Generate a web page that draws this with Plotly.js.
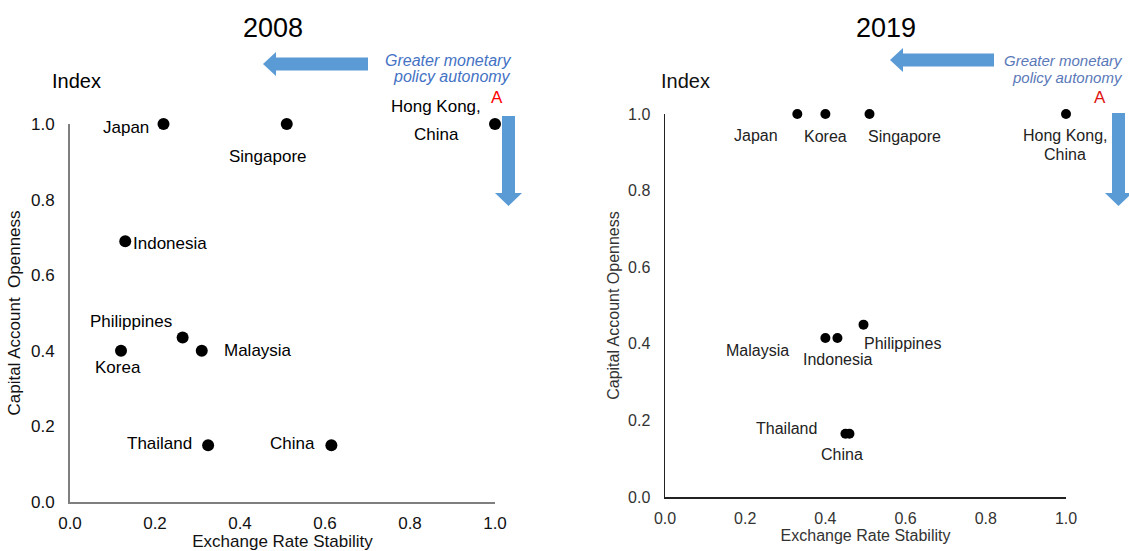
<!DOCTYPE html>
<html>
<head>
<meta charset="utf-8">
<script src="https://cdn.plot.ly/plotly-3.0.1.min.js"></script>
<style>html,body{margin:0;padding:0;background:#fff;}#chart{width:1129px;height:551px;}</style>
</head>
<body>
<div id="chart"></div>
<script>
// ---- data ----
const names2008 = ['Japan', 'Singapore', 'Hong Kong, China', 'Indonesia', 'Philippines', 'Korea', 'Malaysia', 'Thailand', 'China'];
const ers2008   = [0.22, 0.51, 1.0, 0.13, 0.265, 0.12, 0.31, 0.325, 0.615];
const kao2008   = [1.0, 1.0, 1.0, 0.69, 0.435, 0.40, 0.40, 0.15, 0.15];

const names2019 = ['Japan', 'Korea', 'Singapore', 'Hong Kong, China', 'Malaysia', 'Indonesia', 'Philippines', 'Thailand', 'China'];
const ers2019   = [0.33, 0.40, 0.51, 1.0, 0.40, 0.43, 0.495, 0.45, 0.46];
const kao2019   = [1.0, 1.0, 1.0, 1.0, 0.415, 0.415, 0.45, 0.165, 0.165];

const tickVals  = [0, 0.2, 0.4, 0.6, 0.8, 1.0];
const tickText  = ['0.0', '0.2', '0.4', '0.6', '0.8', '1.0'];

const panelTitles = ['2008', '2019'];
const unitLabel = 'Index';
const xTitle = 'Exchange Rate Stability';
const yTitleLeft = 'Capital Account  Openness';
const yTitleRight = 'Capital Account Openness';
const noteLines = ['Greater monetary', 'policy autonomy'];
const cornerMark = 'A';

// ---- styling / layout helpers ----
const W = 1129, H = 551;
const FONT = 'Liberation Sans, Arial, sans-serif';
const BLUE = '#5b9bd5';
const px = x => x / W;
const py = y => 1 - y / H;

// label placement offsets (pixels from the point): dx right, dy down
const labelPos2008 = {
  'Japan': {dx: -38, dy: 3, xa: 'center'},
  'Singapore': {dx: -19, dy: 32, xa: 'center'},
  'Hong Kong, China': {dx: -59, dy: -4, xa: 'center', gap: 28},
  'Indonesia': {dx: 6, dy: 2, xa: 'left'},
  'Philippines': {dx: -52, dy: -16, xa: 'center'},
  'Korea': {dx: -3, dy: 17, xa: 'center'},
  'Malaysia': {dx: 20, dy: 0, xa: 'left'},
  'Thailand': {dx: -14, dy: -2, xa: 'right'},
  'China': {dx: -14, dy: -2, xa: 'right'}
};
const labelPos2019 = {
  'Japan': {dx: -41, dy: 21, xa: 'center'},
  'Korea': {dx: 0, dy: 22, xa: 'center'},
  'Singapore': {dx: 35, dy: 22, xa: 'center'},
  'Hong Kong, China': {dx: -1, dy: 31, xa: 'center', gap: 19},
  'Malaysia': {dx: -68, dy: 12, xa: 'center'},
  'Indonesia': {dx: 0, dy: 21, xa: 'center'},
  'Philippines': {dx: 39, dy: 19, xa: 'center'},
  'Thailand': {dx: -59, dy: -5, xa: 'center'},
  'China': {dx: -7, dy: 21, xa: 'center'}
};

function labelAnnotations(names, xs, ys, pos, xref, yref, size, color) {
  const out = [];
  names.forEach((n, i) => {
    const p = pos[n];
    let lines = [n];
    if (p.gap) { const k = n.indexOf(', '); lines = [n.slice(0, k + 1), n.slice(k + 2)]; }
    lines.forEach((t, j) => {
      const off = lines.length > 1 ? (j === 0 ? -p.gap / 2 : p.gap / 2) : 0;
      out.push({
        x: xs[i], y: ys[i], xref: xref, yref: yref, text: t, showarrow: false,
        xanchor: p.xa, yanchor: 'middle', xshift: p.dx, yshift: -(p.dy + off),
        font: {family: FONT, size: size, color: color}
      });
    });
  });
  return out;
}

function textAnn(x, y, text, size, color, xanchor, extra) {
  return Object.assign({
    xref: 'paper', yref: 'paper', x: px(x), y: py(y), text: text, showarrow: false,
    xanchor: xanchor || 'center', yanchor: 'middle',
    font: {family: FONT, size: size, color: color}
  }, extra || {});
}

function poly(pts) {
  return {
    type: 'path', xref: 'paper', yref: 'paper', fillcolor: BLUE, line: {width: 0},
    path: 'M' + pts.map(p => px(p[0]).toFixed(5) + ',' + py(p[1]).toFixed(5)).join(' L') + ' Z'
  };
}
function leftArrow(tipX, cy, endX, shaftH, headH, headL) {
  const b = tipX + headL;
  return poly([[tipX, cy], [b, cy - headH / 2], [b, cy - shaftH / 2], [endX, cy - shaftH / 2],
               [endX, cy + shaftH / 2], [b, cy + shaftH / 2], [b, cy + headH / 2]]);
}
function downArrow(cx, topY, tipY, shaftW, headW, headL) {
  const b = tipY - headL;
  return poly([[cx - shaftW / 2, topY], [cx + shaftW / 2, topY], [cx + shaftW / 2, b], [cx + headW / 2, b],
               [cx, tipY], [cx - headW / 2, b], [cx - shaftW / 2, b]]);
}

const traces = [
  {x: ers2008, y: kao2008, text: names2008, type: 'scatter', mode: 'markers', xaxis: 'x', yaxis: 'y',
   marker: {color: '#000', size: 12}, cliponaxis: false, hoverinfo: 'text', showlegend: false},
  {x: ers2019, y: kao2019, text: names2019, type: 'scatter', mode: 'markers', xaxis: 'x2', yaxis: 'y2',
   marker: {color: '#000', size: 10}, cliponaxis: false, hoverinfo: 'text', showlegend: false}
];

function axis(domain, anchor, lineColor, lineW, tickSize, tickColor, title, titleSize, standoff) {
  return {
    domain: domain, anchor: anchor, range: [0, 1], fixedrange: true,
    showline: true, linecolor: lineColor, linewidth: lineW, mirror: false,
    showgrid: false, zeroline: false, ticks: '', tickmode: 'array', tickvals: tickVals, ticktext: tickText,
    tickfont: {family: FONT, size: tickSize, color: tickColor}, automargin: false,
    title: {text: title, font: {family: FONT, size: titleSize, color: tickColor}, standoff: standoff}
  };
}

const layout = {
  width: W, height: H, margin: {l: 0, r: 0, t: 0, b: 0},
  paper_bgcolor: '#fff', plot_bgcolor: '#fff', showlegend: false,
  font: {family: FONT},
  xaxis: Object.assign(axis([px(70), px(495)], 'y', '#7f7f7f', 2, 17, '#111', xTitle, 17, 12), {ticklabelstandoff: 5}),
  yaxis: Object.assign(axis([py(502), py(124)], 'x', '#7f7f7f', 2, 17, '#111', yTitleLeft, 17, 6), {ticklabelstandoff: 10}),
  xaxis2: Object.assign(axis([px(665), px(1066)], 'y2', '#222', 1.5, 16, '#333', xTitle, 16, 4), {ticklabelstandoff: 6}),
  yaxis2: Object.assign(axis([py(497), py(114)], 'x2', '#222', 1.5, 16, '#333', yTitleRight, 16, 4), {ticklabelstandoff: 10}),
  shapes: [
    leftArrow(263, 64, 368, 13, 24, 13),
    downArrow(508.5, 116, 206, 13, 27, 13),
    leftArrow(890, 60, 994, 13, 24, 13),
    downArrow(1118.5, 113, 206, 13, 27, 13)
  ],
  annotations: [
    textAnn(273, 28, panelTitles[0], 27, '#000'),
    textAnn(886, 28, panelTitles[1], 27, '#000'),
    textAnn(76, 81, unitLabel, 20, '#000'),
    textAnn(685, 81, unitLabel, 20, '#111'),
    textAnn(513, 60, '<i>' + noteLines[0] + '</i>', 16, '#4472c4', 'right'),
    textAnn(513, 77, '<i>' + noteLines[1] + '</i>', 16, '#4472c4', 'right'),
    textAnn(1125, 60, '<i>' + noteLines[0] + '</i>', 15, '#5a78b8', 'right'),
    textAnn(1125, 78, '<i>' + noteLines[1] + '</i>', 15, '#5a78b8', 'right'),
    textAnn(497, 97, cornerMark, 17, '#ff0000'),
    textAnn(1100, 97, cornerMark, 17, '#e01010')
  ]
    .concat(labelAnnotations(names2008, ers2008, kao2008, labelPos2008, 'x', 'y', 17, '#000'))
    .concat(labelAnnotations(names2019, ers2019, kao2019, labelPos2019, 'x2', 'y2', 16, '#222'))
};

Plotly.newPlot('chart', traces, layout, {displayModeBar: false, staticPlot: true});
</script>
</body>
</html>
